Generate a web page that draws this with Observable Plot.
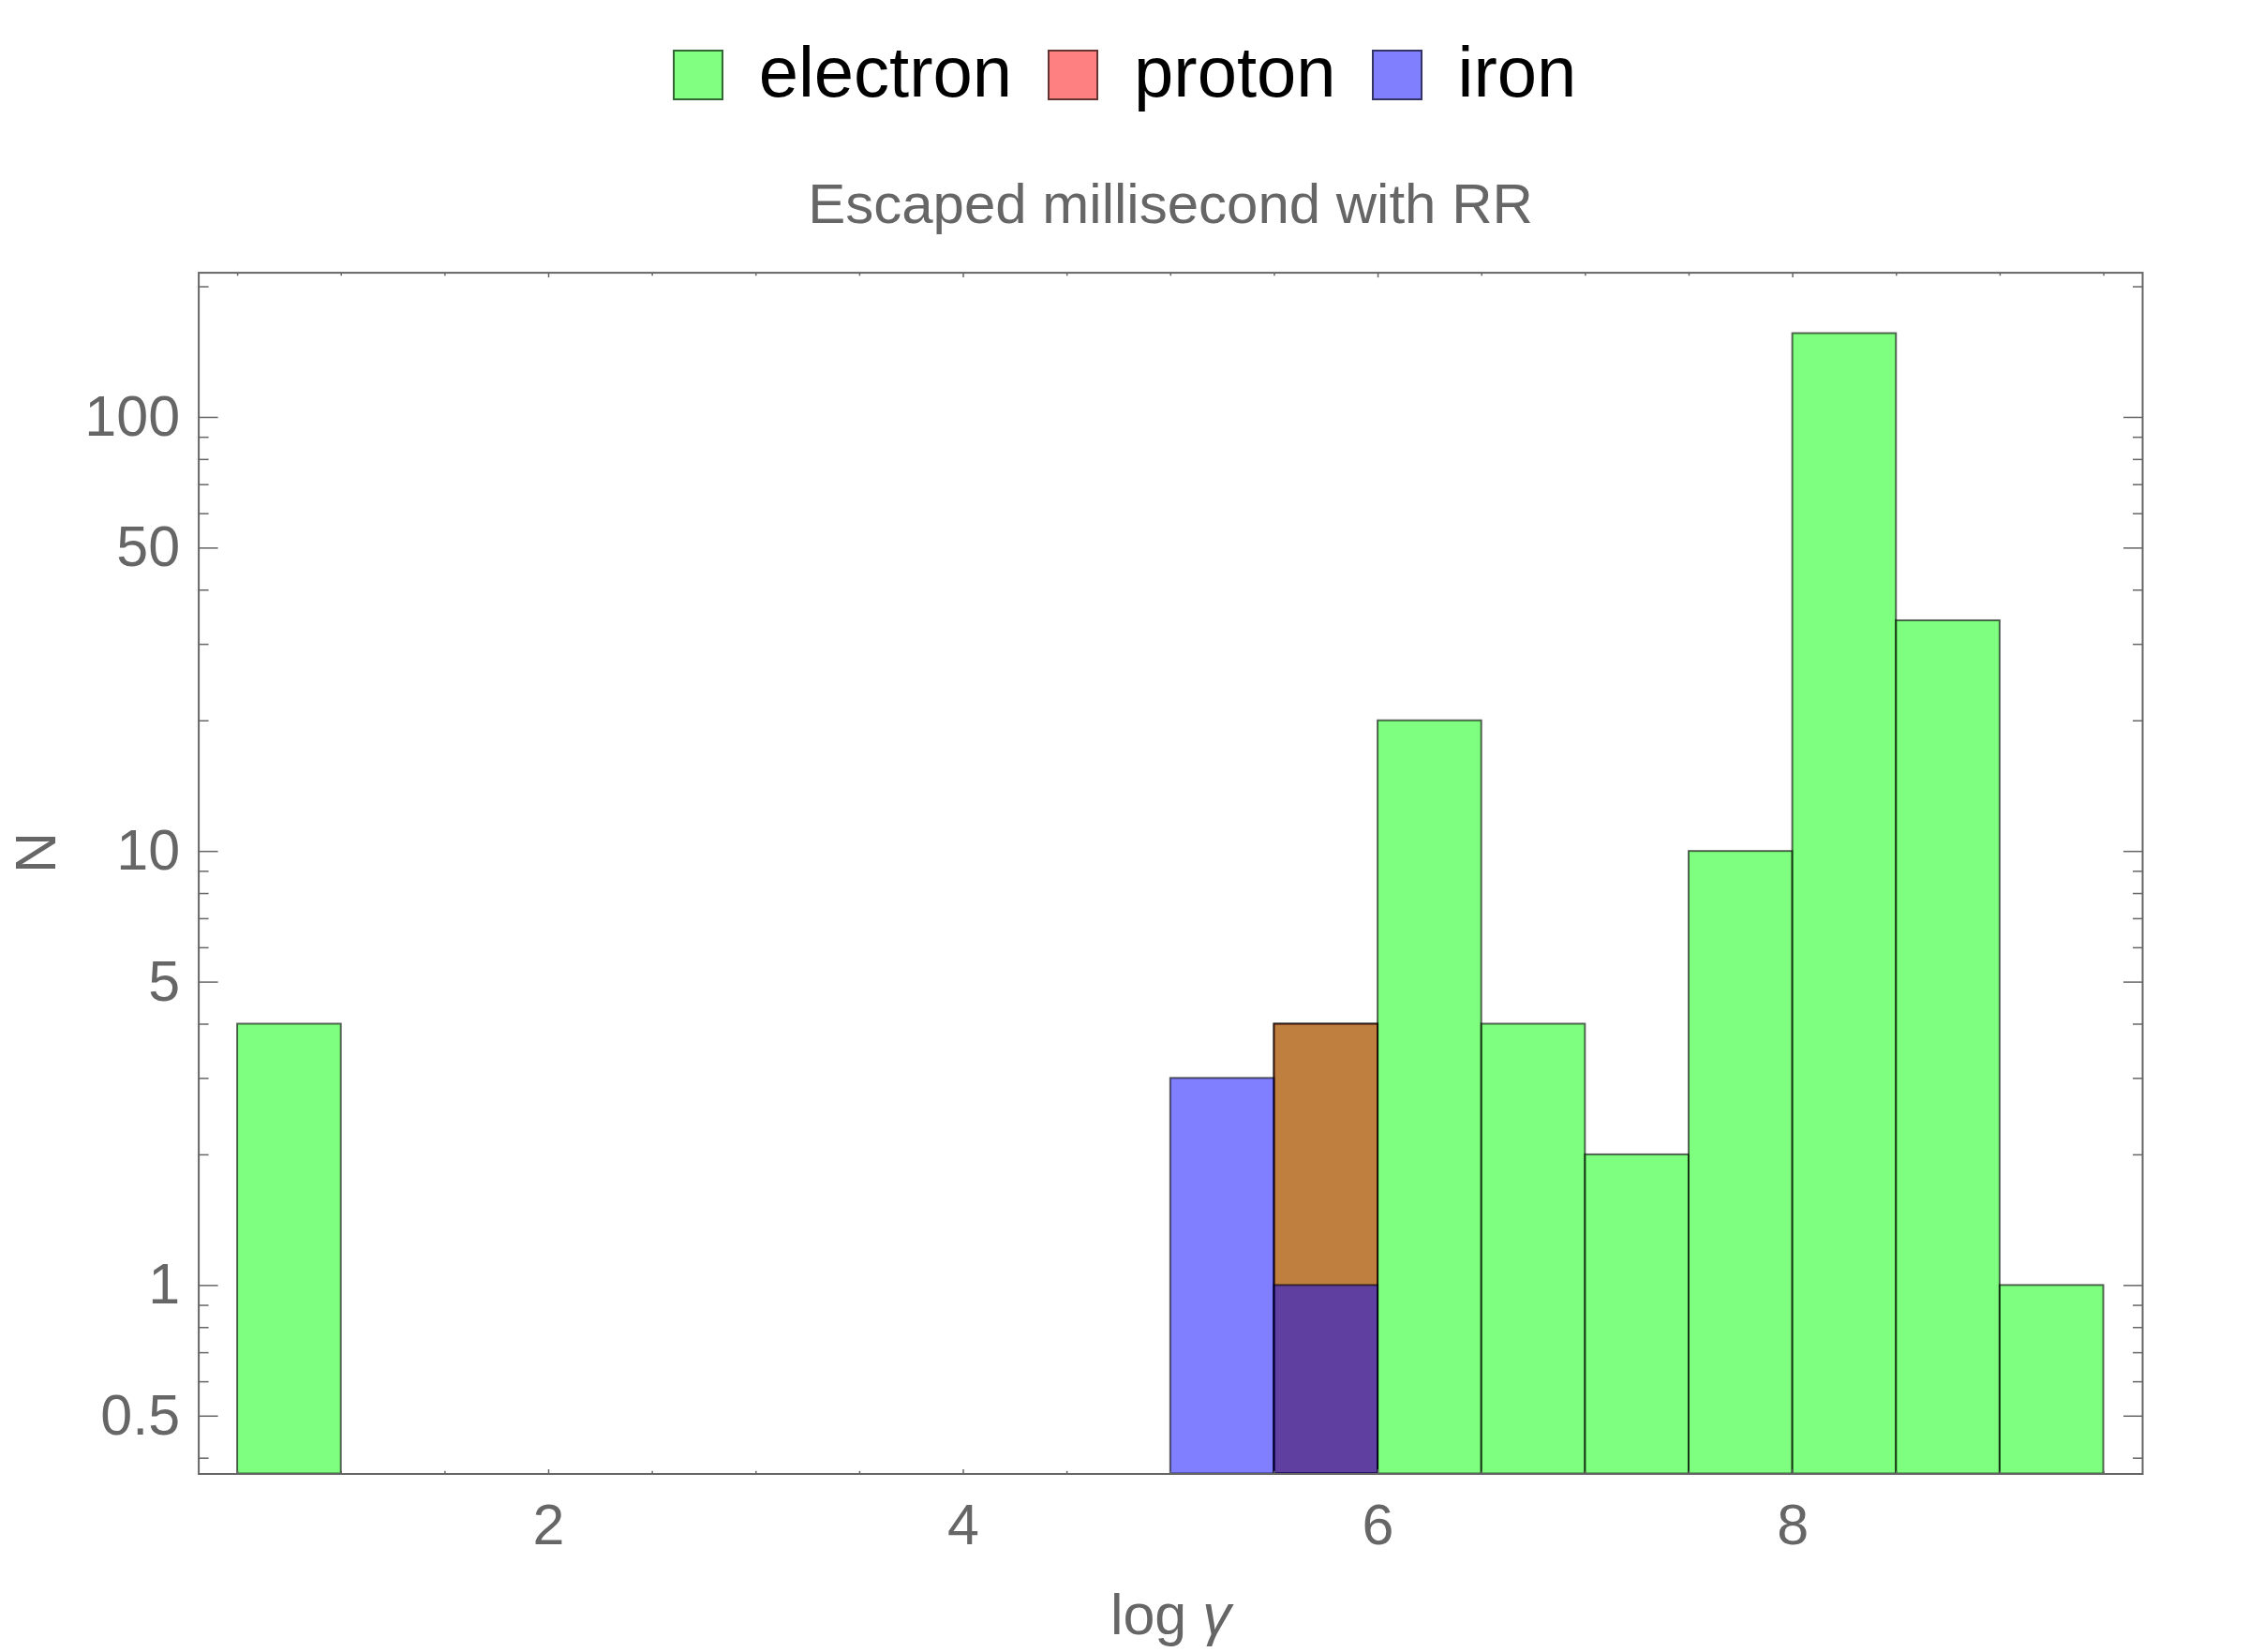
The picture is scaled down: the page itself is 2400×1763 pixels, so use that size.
<!DOCTYPE html>
<html>
<head>
<meta charset="utf-8">
<script src="https://cdn.jsdelivr.net/npm/d3@7"></script>
<script src="https://cdn.jsdelivr.net/npm/@observablehq/plot@0.6"></script>
<style>
  html, body { margin: 0; padding: 0; background: #fff; }
  body { width: 2400px; height: 1763px; position: relative; overflow: hidden; font-family: "Liberation Sans", Arial, sans-serif; }
  #header { position: absolute; left: 0; top: 0; width: 2400px; height: 260px; }
  #legend { position: absolute; left: 0; top: 53px; width: 2400px; height: 54px; display: flex; justify-content: center; align-items: center; }
  .item { display: flex; align-items: center; }
  .sw { width: 50px; height: 50px; border: 2px solid rgba(0,0,0,0.6); box-sizing: content-box; }
  .lab { font-size: 76px; line-height: 76px; color: #000; margin-left: 38px; margin-right: 38px; position: relative; top: -3px; }
  .item:last-child .lab { margin-right: 0; }
  #title { position: absolute; left: 212px; width: 2074px; top: 188px; font-size: 60px; line-height: 60px; color: #666; text-align: center; }
  #chart { position: absolute; left: 0; top: 260px; }
</style>
</head>
<body>
<div id="header">
  <div id="legend"></div>
  <div id="title">Escaped millisecond with RR</div>
</div>
<div id="chart"></div>
<script>
// ---- data ----
const binWidth = 0.5;
const species = ["electron", "proton", "iron"];
const speciesColors = ["#00ff00", "#ff0000", "#0000ff"];
const electronBins = [0.5, 5.5, 6.0, 6.5, 7.0, 7.5, 8.0, 8.5, 9.0];
const electronCounts = [4, 4, 20, 4, 2, 10, 156, 34, 1];
const protonBins = [5.5];
const protonCounts = [4];
const ironBins = [5.0, 5.5];
const ironCounts = [3, 1];

const xDomain = [0.3125, 9.6875];
const yDomain = [0.3679, 215.4];
const xMajorTicks = [2, 4, 6, 8];
const xMinorTicks = [0.5, 1, 1.5, 2.5, 3, 3.5, 4.5, 5, 5.5, 6.5, 7, 7.5, 8.5, 9, 9.5];
const yMajorTicks = [0.5, 1, 5, 10, 50, 100];
const yMinorTicks = [0.4, 0.6, 0.7, 0.8, 0.9, 2, 3, 4, 6, 7, 8, 9, 20, 30, 40, 60, 70, 80, 90, 200];

// ---- build table ----
const bars = [];
[[electronBins, electronCounts, "electron"], [protonBins, protonCounts, "proton"], [ironBins, ironCounts, "iron"]]
  .forEach(([bins, counts, sp]) => bins.forEach((b, i) => bars.push({species: sp, lo: b, hi: b + binWidth, count: counts[i]})));

// ---- legend ----
const legend = document.getElementById("legend");
species.forEach((s, i) => {
  const it = document.createElement("div");
  it.className = "item";
  const sw = document.createElement("div");
  sw.className = "sw";
  sw.style.background = d3.interpolateRgb("#ffffff", speciesColors[i])(0.5);
  const lb = document.createElement("div");
  lb.className = "lab";
  lb.textContent = s;
  it.appendChild(sw); it.appendChild(lb);
  legend.appendChild(it);
});

const gray = "#666";
const font = "Liberation Sans, Arial, sans-serif";

const plot = Plot.plot({
  width: 2400,
  height: 1503,
  marginTop: 30.6,
  marginBottom: 190.5,
  marginLeft: 211.6,
  marginRight: 114,
  style: {fontFamily: font, background: "#fff", overflow: "visible"},
  x: {domain: xDomain},
  y: {type: "log", domain: yDomain},
  color: {domain: species, range: speciesColors},
  marks: [
    Plot.rect(bars, {
      x1: "lo", x2: "hi", y1: yDomain[0], y2: "count",
      fill: "species", fillOpacity: 0.5,
      stroke: "#000", strokeOpacity: 0.6, strokeWidth: 2
    }),
    // y ticks (inward, left and right)
    Plot.axisY(yMajorTicks, {anchor: "left", tickSize: -21, fill: "none", stroke: gray, strokeWidth: 1.5, label: null}),
    Plot.axisY(yMinorTicks, {anchor: "left", tickSize: -11, fill: "none", stroke: gray, strokeWidth: 1.5, label: null}),
    Plot.axisY(yMajorTicks, {anchor: "right", tickSize: -21, fill: "none", stroke: gray, strokeWidth: 1.5, label: null}),
    Plot.axisY(yMinorTicks, {anchor: "right", tickSize: -11, fill: "none", stroke: gray, strokeWidth: 1.5, label: null}),
    Plot.axisY(yMajorTicks, {anchor: "left", tickSize: 0, tickPadding: 20, fill: gray, fontSize: 61, tickFormat: d => String(d), label: null}),
    // x ticks (inward, bottom and top)
    Plot.axisX(xMajorTicks, {anchor: "bottom", tickSize: -4.5, fill: "none", stroke: gray, strokeWidth: 1.5, label: null}),
    Plot.axisX(xMinorTicks, {anchor: "bottom", tickSize: -2.7, fill: "none", stroke: gray, strokeWidth: 1.5, label: null}),
    Plot.axisX(xMajorTicks, {anchor: "top", tickSize: -4.5, fill: "none", stroke: gray, strokeWidth: 1.5, label: null}),
    Plot.axisX(xMinorTicks, {anchor: "top", tickSize: -2.7, fill: "none", stroke: gray, strokeWidth: 1.5, label: null}),
    Plot.axisX(xMajorTicks, {anchor: "bottom", tickSize: 0, tickPadding: 31.5, fill: gray, fontSize: 61, tickFormat: d => String(d), label: null}),
    // axis labels
    Plot.text(["log γ"], {frameAnchor: "bottom", dy: 170.5, lineAnchor: "bottom", fontSize: 61, fill: gray, text: d => d}),
    Plot.text(["N"], {frameAnchor: "left", dx: -173, rotate: -90, lineAnchor: "middle", fontSize: 61, fill: gray, text: d => d}),
    Plot.frame({stroke: gray, strokeWidth: 2})
  ]
});
document.getElementById("chart").appendChild(plot);

// italic gamma in x label
d3.select(plot).selectAll("text").each(function() {
  if (this.textContent === "log γ") {
    const t = d3.select(this);
    t.text(null);
    t.append("tspan").text("log ");
    t.append("tspan").attr("font-style", "italic").text("γ");
  }
});
</script>
</body>
</html>
